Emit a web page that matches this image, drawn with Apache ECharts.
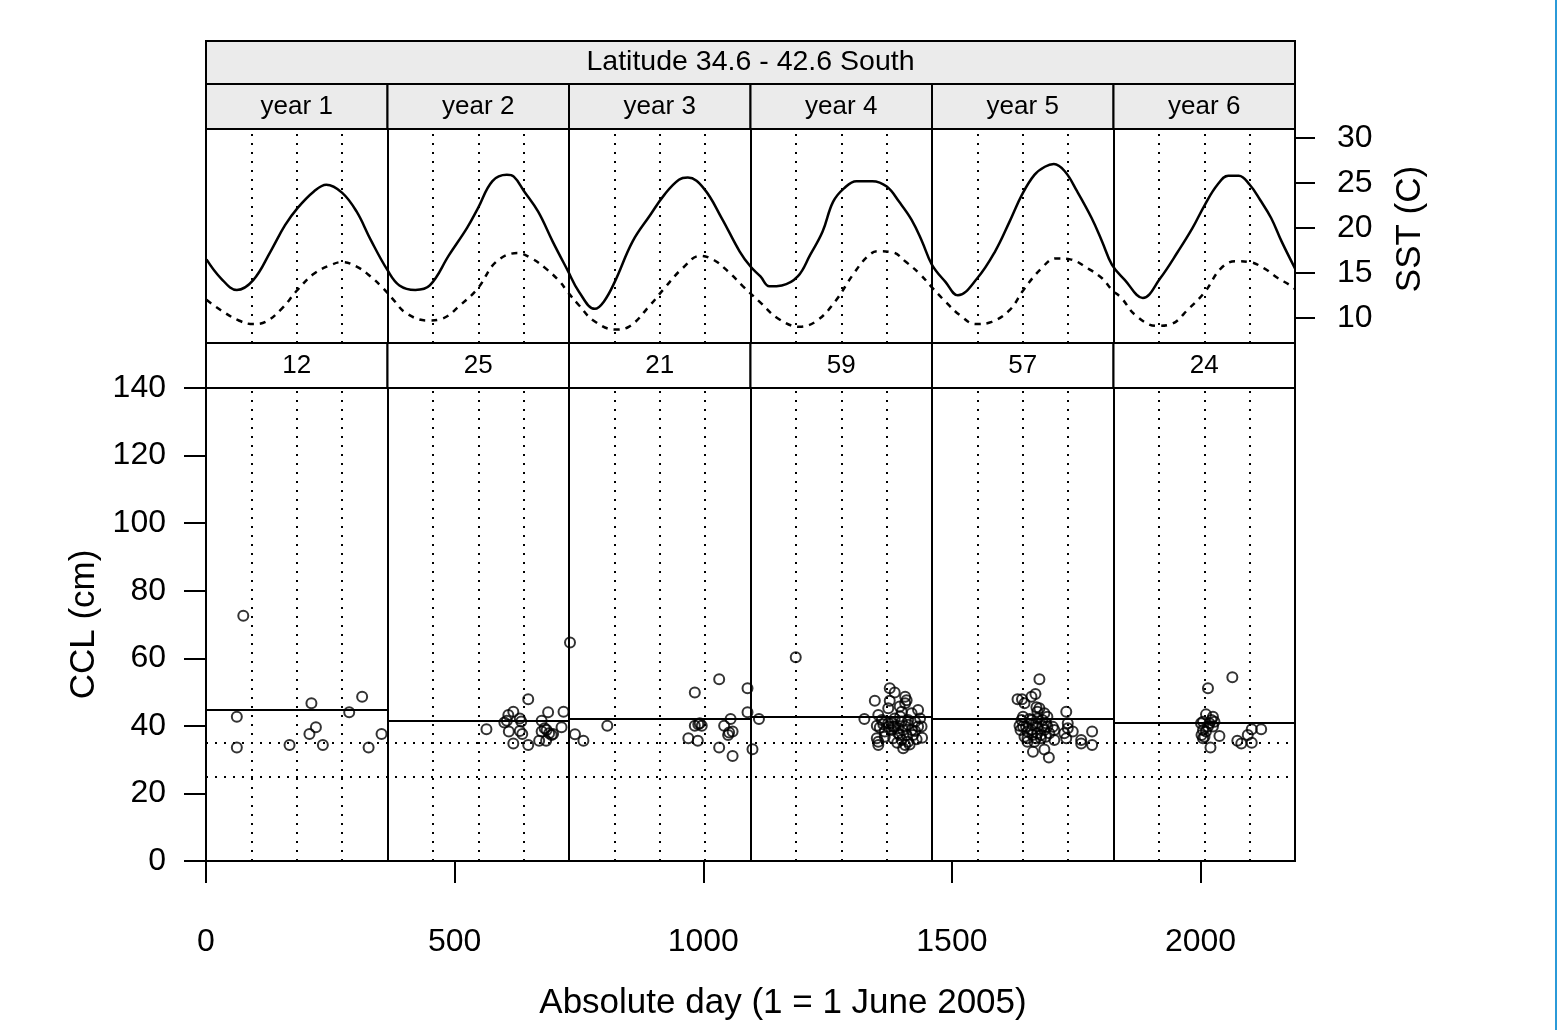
<!DOCTYPE html>
<html>
<head>
<meta charset="utf-8">
<script src="https://cdn.jsdelivr.net/npm/echarts@6/dist/echarts.min.js"></script>
<style>
  html, body { margin: 0; padding: 0; background: #fff; }
  #chart { width: 1557px; height: 1030px; }
</style>
</head>
<body>
<div id="chart"></div>
<script>
// ---- data ----
const yearLabels = ['year 1', 'year 2', 'year 3', 'year 4', 'year 5', 'year 6'];
const counts = [12, 25, 21, 59, 57, 24];
const meanCCL = [44.9, 41.5, 42.1, 42.7, 42.0, 40.8];
const cclTicks = [0, 20, 40, 60, 80, 100, 120, 140];
const dayTicks = [0, 500, 1000, 1500, 2000];
const sstTicks = [10, 15, 20, 25, 30];
const seasonDays = [92, 183, 273];   // dotted lines inside each year
const refCCL = [25, 35];             // dotted horizontal lines
const YEAR = 365;

// SST, absolute day / degrees C
const sstSolid = [
  [1, 16.5], [30, 14.4], [62, 13.1], [95, 14.2], [130, 17.4], [159, 20.3], [184, 22.2],
  [217, 24.05], [242, 24.8], [274, 23.9], [303, 21.8], [331, 18.7], [365, 15.3],
  [389, 13.6], [421, 13.1], [450, 13.6], [489, 17.0], [525, 20.0], [547, 22.2], [576, 25.2],
  [605, 25.9], [619, 25.7], [640, 24.05], [668, 21.8], [697, 18.5], [727, 15.3],
  [750, 12.9], [782, 11.0], [800, 11.8], [822, 14.0], [858, 18.5], [893, 21.4], [922, 23.7],
  [951, 25.35], [969, 25.6], [1001, 24.4], [1037, 21.1], [1073, 17.4], [1095, 15.7],
  [1115, 14.6], [1133, 13.5], [1158, 13.6], [1190, 14.6], [1215, 17.0], [1240, 19.6], [1261, 22.9],
  [1283, 24.4], [1308, 25.2], [1340, 25.2], [1369, 24.6], [1394, 22.9], [1419, 20.9], [1440, 18.5], [1460, 15.9],
  [1487, 14.0], [1512, 12.5], [1551, 14.4], [1587, 17.4], [1616, 20.7], [1641, 23.7], [1666, 25.9],
  [1687, 26.8], [1705, 27.1], [1727, 26.3], [1752, 24.05], [1781, 21.1], [1802, 18.5], [1822, 15.9],
  [1848, 14.2], [1884, 12.2], [1919, 14.4], [1955, 17.4], [1984, 20.0], [2009, 22.6], [2034, 24.8],
  [2056, 25.8], [2077, 25.8], [2099, 24.8], [2120, 23.1], [2142, 21.1], [2163, 18.5], [2190, 15.5]
];
const sstDashed = [
  [1, 12.0], [30, 10.85], [66, 9.7], [95, 9.3], [120, 9.55], [152, 11.0], [184, 13.1],
  [217, 14.9], [252, 15.9], [274, 16.2], [303, 15.7], [331, 14.6], [356, 13.3],
  [374, 12.2], [403, 10.5], [446, 9.7], [475, 9.9], [511, 11.4], [547, 13.3], [583, 16.2],
  [626, 17.2], [655, 16.6], [683, 15.5], [712, 14.0], [727, 12.9],
  [750, 11.4], [779, 9.7], [822, 8.7], [850, 9.0], [893, 11.4], [922, 13.3], [958, 15.5],
  [994, 16.9], [1022, 16.4], [1051, 15.1], [1080, 13.5],
  [1113, 11.8], [1151, 9.9], [1194, 9.0], [1229, 9.7], [1265, 11.8], [1301, 14.8], [1330, 16.8],
  [1351, 17.4], [1380, 17.3], [1408, 16.2], [1437, 14.8], [1458, 13.5],
  [1487, 11.8], [1516, 10.3], [1548, 9.3], [1580, 9.55], [1616, 10.85], [1644, 13.1], [1680, 15.5],
  [1709, 16.6], [1738, 16.5], [1773, 15.5], [1802, 14.4], [1822, 13.1],
  [1841, 12.2], [1869, 10.3], [1912, 9.1], [1941, 9.3], [1976, 11.0], [2009, 12.9], [2041, 15.5],
  [2070, 16.3], [2099, 16.2], [2128, 15.5], [2156, 14.4], [2178, 13.7], [2190, 13.2]
];

// CCL (cm) by absolute day, one array per year
const ccl1 = [[75, 72.6], [62, 42.7], [62, 33.6], [168, 34.3], [212, 46.7], [208, 37.6], [221, 39.6],
  [235, 34.3], [288, 44.0], [314, 48.6], [327, 33.6], [353, 37.6]];
const ccl2 = [[648, 47.9], [564, 39.0], [608, 43.2], [618, 44.2], [605, 41.5], [631, 42.2], [634, 41.3],
  [609, 38.3], [631, 38.5], [636, 37.6], [618, 34.8], [648, 34.3], [675, 41.5], [688, 44.0], [719, 44.2],
  [715, 39.6], [675, 38.3], [685, 38.8], [690, 37.8], [695, 37.3], [670, 35.6], [684, 35.6], [698, 37.6],
  [681, 39.3], [600, 41.0]];
const ccl3 = [[732, 64.7], [742, 37.5], [759, 35.6], [807, 40.0], [983, 49.9], [1032, 53.8], [1089, 51.1],
  [1089, 44.0], [983, 40.0], [990, 40.5], [997, 40.0], [970, 36.3], [989, 35.6], [1042, 40.0], [1055, 42.0],
  [1059, 38.3], [1050, 37.3], [1032, 33.6], [1059, 31.1], [993, 40.8], [1052, 38.0]];
const ccl4 = [[1099, 33.1], [1112, 42.0], [1186, 60.3], [1324, 42.0], [1345, 47.4], [1375, 51.1], [1385, 49.9],
  [1375, 47.4], [1372, 45.2], [1406, 48.6], [1409, 47.6], [1432, 44.7], [1399, 44.2], [1352, 43.2],
  [1349, 40.0], [1355, 39.5], [1379, 40.8], [1385, 39.8], [1399, 41.2], [1412, 41.7], [1426, 41.2],
  [1436, 42.2], [1432, 39.8], [1419, 38.8], [1406, 39.8], [1392, 37.8], [1379, 38.8], [1365, 36.8],
  [1382, 36.3], [1399, 35.8], [1406, 34.3], [1402, 33.4], [1412, 35.3], [1429, 36.0], [1422, 37.3],
  [1352, 35.3], [1352, 34.3], [1349, 36.3], [1365, 38.3], [1372, 40.8], [1385, 42.2], [1395, 45.7],
  [1406, 46.7], [1419, 43.7], [1439, 39.8], [1395, 37.3], [1409, 37.3], [1372, 39.8], [1382, 39.8],
  [1359, 41.7], [1402, 38.8], [1412, 40.3], [1392, 39.3], [1415, 34.5], [1390, 35.0], [1362, 40.5],
  [1426, 38.5], [1440, 36.5], [1396, 42.8]];
const ccl5 = [[1676, 53.8], [1632, 47.9], [1641, 47.9], [1646, 46.7], [1660, 48.6], [1668, 49.4], [1670, 45.5],
  [1676, 45.2], [1672, 44.2], [1730, 44.2], [1643, 42.7], [1640, 41.7], [1636, 40.0], [1638, 38.8],
  [1649, 39.8], [1660, 41.7], [1672, 42.2], [1682, 41.7], [1689, 40.8], [1703, 39.7], [1706, 38.8],
  [1686, 38.8], [1672, 37.8], [1662, 37.3], [1652, 36.3], [1646, 36.8], [1679, 36.3], [1689, 36.8],
  [1666, 35.3], [1652, 35.3], [1706, 35.8], [1730, 36.3], [1733, 40.8], [1733, 39.3], [1743, 38.3],
  [1760, 35.8], [1760, 34.8], [1782, 38.3], [1782, 34.3], [1663, 32.3], [1686, 33.0], [1695, 30.6],
  [1682, 39.8], [1672, 39.8], [1692, 42.7], [1686, 43.7], [1652, 38.3], [1662, 40.3], [1669, 40.8],
  [1679, 37.3], [1643, 39.8], [1696, 37.8], [1726, 37.8], [1660, 38.8], [1669, 36.3], [1692, 39.8],
  [1656, 42.0]];
const ccl6 = [[2064, 54.4], [2015, 51.1], [2011, 43.4], [2025, 42.7], [2005, 41.2], [2022, 41.7], [2025, 39.8],
  [2015, 39.8], [2005, 38.8], [2002, 37.3], [2008, 36.8], [2005, 36.3], [2038, 37.0], [2020, 33.6],
  [2074, 35.6], [2082, 34.8], [2103, 35.0], [2095, 37.3], [2103, 39.0], [2122, 39.0], [2018, 40.8],
  [2011, 38.3], [2028, 41.2], [2001, 40.8]];
const cclByYear = [ccl1, ccl2, ccl3, ccl4, ccl5, ccl6];

// ---- layout ----
const FONT = '"Liberation Sans", Arial, Helvetica, sans-serif';
const PLOT_LEFT = 206, PLOT_W = 1089;
const LAT_TOP = 41, LAT_H = 43;
const YEAR_TOP = 84, YEAR_H = 45;
const SST_TOP = 129, SST_H = 214;
const CCL_TOP = 388, CCL_H = 473;
const COUNT_TOP = SST_TOP + SST_H, COUNT_H = CCL_TOP - COUNT_TOP;
const panelW = PLOT_W / yearLabels.length;

const dividerDays = [1, 2, 3, 4, 5].map(k => k * YEAR);
const dottedDays = [];
yearLabels.forEach((_, k) => seasonDays.forEach(d => dottedDays.push(k * YEAR + d)));

const dotStyle = { color: '#000', width: 2, type: [2, 7] };
const solidStyle = { color: '#000', width: 2, type: 'solid' };

const vLines = [
  ...dottedDays.map(d => ({ xAxis: d, lineStyle: dotStyle })),
  ...dividerDays.map(d => ({ xAxis: d, lineStyle: solidStyle }))
];

const baseMarkLine = { silent: true, symbol: 'none', label: { show: false }, animation: false };

const $chartEl = document.getElementById('chart');
const chart = echarts.init($chartEl, null, { renderer: 'canvas' });

// strips, axis titles and the thin blue edge
const strips = [];
strips.push({
  type: 'rect', z: 10,
  shape: { x: PLOT_LEFT, y: LAT_TOP, width: PLOT_W, height: LAT_H },
  style: { fill: '#ebebeb', stroke: '#000', lineWidth: 2 }
});
strips.push({
  type: 'text', z: 11,
  x: PLOT_LEFT + PLOT_W / 2, y: LAT_TOP + LAT_H / 2,
  style: { text: 'Latitude 34.6 - 42.6 South', fontSize: 28.5, fontFamily: FONT, fill: '#000', align: 'center', verticalAlign: 'middle' }
});
yearLabels.forEach((lab, i) => {
  const x = PLOT_LEFT + i * panelW;
  strips.push({
    type: 'rect', z: 10,
    shape: { x: x, y: YEAR_TOP, width: panelW, height: YEAR_H },
    style: { fill: '#ebebeb', stroke: '#000', lineWidth: 2 }
  });
  strips.push({
    type: 'text', z: 11, x: x + panelW / 2, y: YEAR_TOP + YEAR_H / 2,
    style: { text: lab, fontSize: 26, fontFamily: FONT, fill: '#000', align: 'center', verticalAlign: 'middle' }
  });
  strips.push({
    type: 'rect', z: 10,
    shape: { x: x, y: COUNT_TOP, width: panelW, height: COUNT_H },
    style: { fill: '#fff', stroke: '#000', lineWidth: 2 }
  });
  strips.push({
    type: 'text', z: 11, x: x + panelW / 2, y: COUNT_TOP + COUNT_H / 2,
    style: { text: String(counts[i]), fontSize: 26, fontFamily: FONT, fill: '#000', align: 'center', verticalAlign: 'middle' }
  });
});
strips.push({
  type: 'text', z: 11, x: 783, y: 1003,
  style: { text: 'Absolute day (1 = 1 June 2005)', fontSize: 35, fontFamily: FONT, fill: '#000', align: 'center', verticalAlign: 'middle' }
});
strips.push({
  type: 'text', z: 11, x: 1410, y: 229, rotation: Math.PI / 2,
  style: { text: 'SST (C)', fontSize: 35, fontFamily: FONT, fill: '#000', align: 'center', verticalAlign: 'middle' }
});
strips.push({
  type: 'rect', z: 10,
  shape: { x: 1555, y: 0, width: 2, height: 1030 },
  style: { fill: '#2b9ad8' }
});

const labelStyle = { color: '#000', fontSize: 32, fontFamily: FONT, formatter: v => String(v) };
const tickStyle = { color: '#000', width: 2 };

const cclSeries = cclByYear.map((pts, i) => ({
  name: yearLabels[i],
  type: 'scatter',
  xAxisIndex: 1, yAxisIndex: 1,
  data: pts,
  symbol: 'circle',
  symbolSize: 10,
  itemStyle: { color: 'rgba(0,0,0,0)', borderColor: '#000', borderWidth: 2 },
  z: 5,
  markLine: Object.assign({}, baseMarkLine, {
    lineStyle: solidStyle,
    data: [[{ coord: [i * YEAR, meanCCL[i]] }, { coord: [(i + 1) * YEAR, meanCCL[i]] }]]
  })
}));
// reference lines of the lower panel
cclSeries.push({
  type: 'line', xAxisIndex: 1, yAxisIndex: 1, data: [], z: 3,
  markLine: Object.assign({}, baseMarkLine, {
    data: [
      ...vLines,
      ...refCCL.map(v => ({ yAxis: v, lineStyle: dotStyle }))
    ]
  })
});

const option = {
  animation: false,
  backgroundColor: '#fff',
  textStyle: { fontFamily: FONT },
  grid: [
    { left: PLOT_LEFT, top: SST_TOP, width: PLOT_W, height: SST_H, show: true, borderColor: '#000', borderWidth: 2, backgroundColor: 'transparent' },
    { left: PLOT_LEFT, top: CCL_TOP, width: PLOT_W, height: CCL_H, show: true, borderColor: '#000', borderWidth: 2, backgroundColor: 'transparent' }
  ],
  xAxis: [
    {
      gridIndex: 0, type: 'value', min: 0, max: 2190,
      axisLine: { show: false, onZero: false }, axisTick: { show: false }, axisLabel: { show: false }, splitLine: { show: false }
    },
    {
      gridIndex: 1, type: 'value', min: 0, max: 2190,
      axisLine: { show: false, onZero: false },
      axisTick: { show: true, length: 22, lineStyle: tickStyle, customValues: dayTicks },
      axisLabel: Object.assign({ margin: 65, customValues: dayTicks }, labelStyle),
      splitLine: { show: false }
    }
  ],
  yAxis: [
    {
      gridIndex: 0, type: 'value', position: 'right', min: 7.2, max: 31,
      axisLine: { show: false, onZero: false },
      axisTick: { show: true, length: 20, lineStyle: tickStyle, customValues: sstTicks },
      axisLabel: Object.assign({ margin: 42, customValues: sstTicks }, labelStyle),
      splitLine: { show: false }
    },
    {
      gridIndex: 1, type: 'value', min: 0, max: 140, interval: 20,
      axisLine: { show: false, onZero: false },
      axisTick: { show: true, length: 22, lineStyle: tickStyle, customValues: cclTicks },
      axisLabel: Object.assign({ margin: 40, customValues: cclTicks }, labelStyle),
      splitLine: { show: false },
      name: 'CCL (cm)', nameLocation: 'middle', nameRotate: 90, nameGap: 103,
      nameTextStyle: { color: '#000', fontSize: 35, fontFamily: FONT }
    }
  ],
  graphic: strips,
  series: [
    {
      name: 'SST', type: 'line', xAxisIndex: 0, yAxisIndex: 0,
      data: sstSolid, smooth: 0.4, showSymbol: false, z: 4,
      lineStyle: { color: '#000', width: 2.5 },
      markLine: Object.assign({}, baseMarkLine, { data: vLines })
    },
    {
      name: 'SST 2', type: 'line', xAxisIndex: 0, yAxisIndex: 0,
      data: sstDashed, smooth: 0.4, showSymbol: false, z: 4,
      lineStyle: { color: '#000', width: 2.5, type: [6, 6] }
    },
    ...cclSeries
  ]
};

chart.setOption(option);
</script>
</body>
</html>
